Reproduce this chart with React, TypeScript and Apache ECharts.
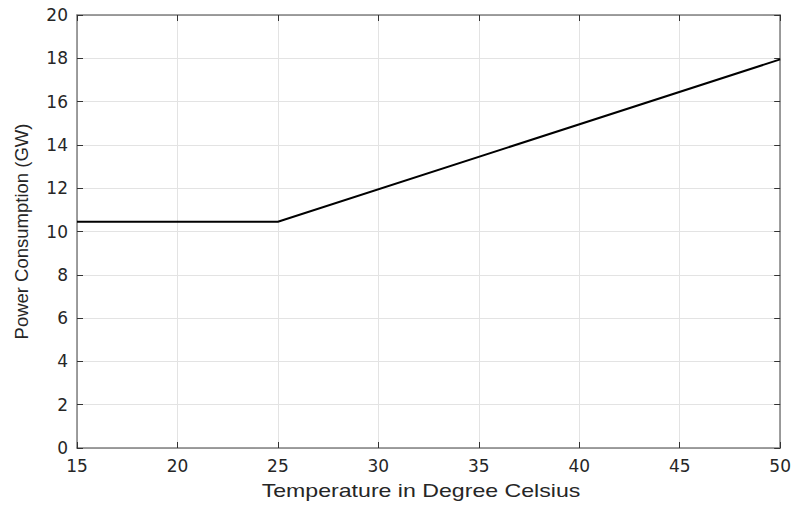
import React, { useEffect, useRef } from "react";
import * as echarts from "echarts";

const temperatures = [15, 25, 50];
const consumption = [10.45, 10.45, 17.95];
const xTicks = { min: 15, max: 50, interval: 5 };
const yTicks = { min: 0, max: 20, interval: 2 };
const xTitle = "Temperature in Degree Celsius";
const yTitle = "Power Consumption (GW)";

export default function App() {
  const ref = useRef<HTMLDivElement>(null);
  useEffect(() => {
    if (!ref.current) return;
    const chart = echarts.init(ref.current, null, { renderer: "svg" });
    const wide = "DejaVu Sans, Verdana, sans-serif";
    const narrow = "Liberation Sans, Arial, Helvetica, sans-serif";
    const labelColor = "#262626";
    const axisLineColor = "#7f7f7f";
    const gridColor = "#e3e3e3";
    chart.setOption({
      animation: false,
      backgroundColor: "#ffffff",
      grid: { left: 77, right: 12, top: 15, bottom: 57, containLabel: false },
      graphic: [
        {
          type: "text",
          x: 421,
          y: 490,
          scaleX: 1.25,
          style: {
            text: xTitle,
            font: "18.5px 'Liberation Sans', Arial, sans-serif",
            fill: labelColor,
            textAlign: "center",
            textVerticalAlign: "middle",
          },
        },
      ],
      xAxis: [
        {
          type: "value",
          min: xTicks.min,
          max: xTicks.max,
          interval: xTicks.interval,
          axisLine: { show: true, onZero: false, lineStyle: { color: axisLineColor, width: 1.5 } },
          axisTick: { show: true, inside: true, length: 6, lineStyle: { color: "#333", width: 1 } },
          axisLabel: { color: labelColor, fontSize: 17, fontFamily: wide, margin: 9 },
          splitLine: { show: true, lineStyle: { color: gridColor, width: 1 } },
        },
        {
          type: "value",
          position: "top",
          min: xTicks.min,
          max: xTicks.max,
          interval: xTicks.interval,
          axisLine: { show: true, onZero: false, lineStyle: { color: axisLineColor, width: 1.5 } },
          axisTick: { show: true, inside: true, length: 6, lineStyle: { color: "#333", width: 1 } },
          axisLabel: { show: false },
          splitLine: { show: false },
        },
      ],
      yAxis: [
        {
          type: "value",
          min: yTicks.min,
          max: yTicks.max,
          interval: yTicks.interval,
          name: yTitle,
          nameLocation: "middle",
          nameGap: 46,
          nameTextStyle: { color: labelColor, fontSize: 18.5, fontFamily: narrow },
          axisLine: { show: true, onZero: false, lineStyle: { color: axisLineColor, width: 1.5 } },
          axisTick: { show: true, inside: true, length: 6, lineStyle: { color: "#333", width: 1 } },
          axisLabel: { color: labelColor, fontSize: 17, fontFamily: wide, margin: 9 },
          splitLine: { show: true, lineStyle: { color: gridColor, width: 1 } },
        },
        {
          type: "value",
          position: "right",
          min: yTicks.min,
          max: yTicks.max,
          interval: yTicks.interval,
          axisLine: { show: true, onZero: false, lineStyle: { color: axisLineColor, width: 1.5 } },
          axisTick: { show: true, inside: true, length: 6, lineStyle: { color: "#333", width: 1 } },
          axisLabel: { show: false },
          splitLine: { show: false },
        },
      ],
      series: [
        {
          type: "line",
          data: temperatures.map((t, i) => [t, consumption[i]]),
          showSymbol: false,
          symbol: "none",
          lineStyle: { color: "#000000", width: 2 },
          z: 5,
        },
      ],
    });
    return () => chart.dispose();
  }, []);
  return <div ref={ref} style={{ width: 794, height: 505, position: "absolute", left: 0, top: 0 }} />;
}
